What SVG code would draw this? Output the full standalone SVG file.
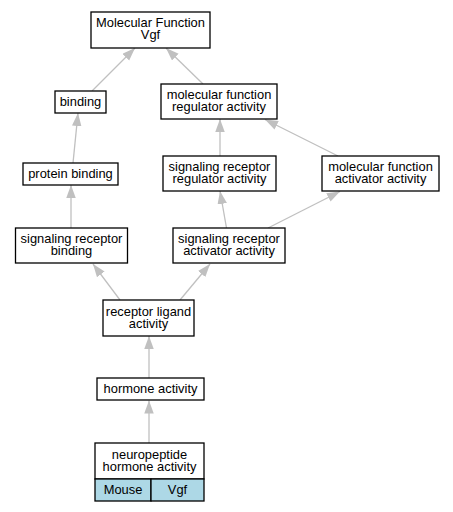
<svg xmlns="http://www.w3.org/2000/svg" width="453" height="512" viewBox="0 0 453 512">
<defs>
<marker id="arr" markerUnits="userSpaceOnUse" markerWidth="13" markerHeight="10" refX="13" refY="4.75" orient="auto">
<path d="M0,0 L13,4.75 L0,9.5 z" fill="#c0c0c0"/>
</marker>
</defs>
<style>
.n rect{fill:#fff;stroke:#000;stroke-width:1.3}
.n rect.c{fill:#add8e6}
text{font-family:"Liberation Sans",Arial,sans-serif;font-size:12.9px;fill:#000;text-anchor:middle}
.e path{fill:none;stroke:#c0c0c0;stroke-width:1.3;marker-end:url(#arr)}
</style>
<rect width="453" height="512" fill="#fff"/>
<g class="e" id="edges">
<path d="M92,91 L135,48"/>
<path d="M203,84 L166,48"/>
<path d="M73,163 L78,113"/>
<path d="M220,156 L220,119"/>
<path d="M338,156 L265,119.5"/>
<path d="M71,228 L71,185"/>
<path d="M226.5,228 L220,191"/>
<path d="M268,228 L340,191.5"/>
<path d="M120,300 L93,264"/>
<path d="M180,300 L210,264"/>
<path d="M149,378 L149,336"/>
<path d="M149,443 L149,400.5"/>
</g>
<g class="n" id="n_mf"><rect x="91" y="12" width="119" height="36"/><text x="150.5" y="26.5">Molecular Function</text><text x="150.5" y="38.5">Vgf</text></g>
<g class="n" id="n_binding"><rect x="55" y="91" width="51" height="22"/><text x="80.5" y="106">binding</text></g>
<g class="n" id="n_mfreg"><rect x="161" y="84" width="116" height="35"/><text x="219" y="99">molecular function</text><text x="219" y="111">regulator activity</text></g>
<g class="n" id="n_prot"><rect x="23" y="163" width="95" height="22"/><text x="70.5" y="178">protein binding</text></g>
<g class="n" id="n_srreg"><rect x="163" y="156" width="113" height="35"/><text x="219.5" y="171">signaling receptor</text><text x="219.5" y="183">regulator activity</text></g>
<g class="n" id="n_mfact"><rect x="322" y="156" width="117" height="35"/><text x="380.5" y="171">molecular function</text><text x="380.5" y="183">activator activity</text></g>
<g class="n" id="n_srbind"><rect x="15.5" y="228" width="112" height="35"/><text x="71.5" y="243">signaling receptor</text><text x="71.5" y="255">binding</text></g>
<g class="n" id="n_sract"><rect x="173" y="228" width="112" height="35"/><text x="229" y="243">signaling receptor</text><text x="229" y="255">activator activity</text></g>
<g class="n" id="n_rlig"><rect x="103" y="300" width="91" height="36"/><text x="148.5" y="315.5">receptor ligand</text><text x="148.5" y="327.5">activity</text></g>
<g class="n" id="n_horm"><rect x="97" y="378" width="107" height="22"/><text x="150.5" y="393">hormone activity</text></g>
<g class="n" id="n_neuro"><rect x="95" y="443" width="109" height="36"/><text x="149.5" y="458.5">neuropeptide</text><text x="149.5" y="470.5">hormone activity</text>
<rect class="c" x="95" y="479" width="56" height="22"/><text x="123" y="494">Mouse</text>
<rect class="c" x="151" y="479" width="53" height="22"/><text x="177.5" y="494">Vgf</text></g>
</svg>
